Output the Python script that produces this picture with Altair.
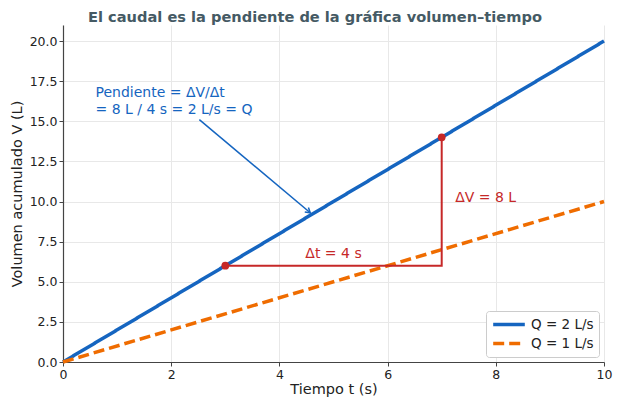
import altair as alt
import pandas as pd

# Data
t_vals = [0, 10]
v_q2 = [0, 20]
v_q1 = [0, 10]
series_names = ["Q = 2 L/s", "Q = 1 L/s"]

pts_t = [3, 7]
pts_v = [6, 14]

# red triangle: horizontal leg then vertical leg
leg_t = [3, 7, 7]
leg_v = [6, 6, 14]

arrow_t = [2.52, 4.57]
arrow_v = [15.1, 9.3]

FONT = "DejaVu Sans"
BLUE = "#1565c0"
ORANGE = "#ef6c00"
RED = "#c62828"

lines_df = pd.DataFrame({
    "t": t_vals + t_vals,
    "v": v_q2 + v_q1,
    "serie": [series_names[0]] * 2 + [series_names[1]] * 2,
})
pts_df = pd.DataFrame({"t": pts_t, "v": pts_v})
leg_df = pd.DataFrame({"t": leg_t, "v": leg_v, "o": [0, 1, 2]})
arrow_df = pd.DataFrame({"t": arrow_t, "v": arrow_v, "o": [0, 1]})

x_scale = alt.Scale(domain=[0, 10], nice=False)
y_scale = alt.Scale(domain=[0, 21], nice=False)

x_enc = alt.X("t:Q", scale=x_scale, title="Tiempo t (s)",
              axis=alt.Axis(values=[0, 2, 4, 6, 8, 10], format="d"))
y_enc = alt.Y("v:Q", scale=y_scale, title="Volumen acumulado V (L)",
              axis=alt.Axis(values=[0, 2.5, 5, 7.5, 10, 12.5, 15, 17.5, 20], format=".1f"))

lines = alt.Chart(lines_df).mark_line(strokeWidth=3.5).encode(
    x=x_enc,
    y=y_enc,
    color=alt.Color("serie:N", scale=alt.Scale(domain=series_names, range=[BLUE, ORANGE]),
                    sort=series_names, title=None),
    strokeDash=alt.StrokeDash("serie:N", scale=alt.Scale(domain=series_names, range=[[1, 0], [11, 5]]),
                              sort=series_names, title=None),
)

legs = alt.Chart(leg_df).mark_line(color=RED, strokeWidth=2).encode(
    x="t:Q", y="v:Q", order="o:Q"
)

points = alt.Chart(pts_df).mark_circle(color=RED, size=60, opacity=1).encode(
    x="t:Q", y="v:Q"
)

arrow_line = alt.Chart(arrow_df).mark_line(color=BLUE, strokeWidth=1.5).encode(
    x="t:Q", y="v:Q", order="o:Q"
)
arrow_head = alt.Chart(arrow_df.iloc[[1]]).mark_point(
    shape="M -1 -0.6 L 0 0 L -1 0.6", filled=False, color=BLUE, strokeWidth=1.5,
    size=90, angle=40, opacity=1
).encode(x="t:Q", y="v:Q")

txt_slope = alt.Chart(pd.DataFrame({"t": [0.6], "v": [16.74]})).mark_text(
    text=["Pendiente = ΔV/Δt", "= 8 L / 4 s = 2 L/s = Q"], align="left", baseline="middle",
    font=FONT, fontSize=14, color=BLUE, lineHeight=17
).encode(x="t:Q", y="v:Q")

txt_dt = alt.Chart(pd.DataFrame({"t": [5.0], "v": [6.7]})).mark_text(
    text="Δt = 4 s", align="center", baseline="middle", font=FONT, fontSize=14, color=RED
).encode(x="t:Q", y="v:Q")

txt_dv = alt.Chart(pd.DataFrame({"t": [7.25], "v": [10.2]})).mark_text(
    text="ΔV = 8 L", align="left", baseline="middle", font=FONT, fontSize=14, color=RED
).encode(x="t:Q", y="v:Q")

# title drawn as a text mark above the plot, centred on the figure
title = alt.Chart(pd.DataFrame({"t": [0]})).mark_text(
    text="El caudal es la pendiente de la gráfica volumen–tiempo",
    font=FONT, fontSize=14.6, fontWeight="bold", color="#455a64",
    align="center", baseline="alphabetic"
).encode(x=alt.value(252), y=alt.value(-3))

chart = alt.layer(
    lines, legs, points, arrow_line, arrow_head, txt_slope, txt_dt, txt_dv, title
).properties(
    width=541, height=337,
    autosize=alt.AutoSizeParams(type="none"),
    padding={"left": 55, "top": 17, "right": 12, "bottom": 35},
).configure_view(
    stroke=None
).configure_axis(
    labelFont=FONT, titleFont=FONT, labelFontSize=12.5, titleFontSize=14.5,
    labelColor="#222", titleColor="#222", titleFontWeight="normal",
    domainColor="#444", domainWidth=1.2, tickColor="#444", tickSize=4,
    gridColor="#e8e8e8", gridWidth=1, labelPadding=2, labelFlush=False,
).configure_axisX(titlePadding=2).configure_axisY(titlePadding=5).configure_legend(
    orient="bottom-right", labelFont=FONT, labelFontSize=13.5, labelColor="#222",
    symbolType="stroke", symbolStrokeWidth=3.5, symbolSize=1000, clipHeight=17,
    fillColor="white", strokeColor="#cccccc", padding=5, cornerRadius=3,
    rowPadding=2, offset=5
)

chart.save("out.html", embed_options={"renderer": "svg", "actions": False})
